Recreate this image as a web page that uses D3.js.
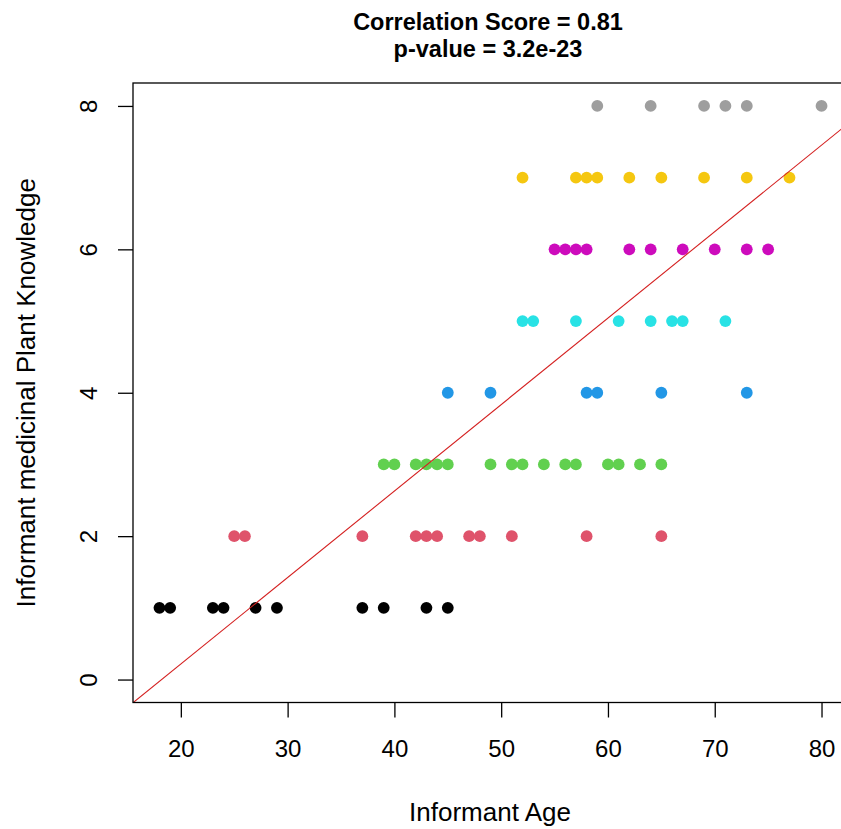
<!DOCTYPE html>
<html>
<head>
<meta charset="utf-8">
<script src="https://cdn.jsdelivr.net/npm/d3@7"></script>
<style>
  html, body { margin: 0; padding: 0; background: #fff; }
  svg { display: block; }
  text { font-family: "Liberation Sans", Arial, sans-serif; fill: #000; }
</style>
</head>
<body>
<div id="chart"></div>
<script>
// ---- data ----
const knowledgeLevels = [1, 2, 3, 4, 5, 6, 7, 8];
const levelColors = ["#000000", "#DF536B", "#61D04F", "#2297E6", "#28E2E5", "#CD0BBC", "#F5C710", "#9E9E9E"];
const agesLevel1 = [18, 19, 23, 24, 27, 29, 37, 39, 43, 45];
const agesLevel2 = [25, 26, 37, 42, 43, 44, 47, 48, 51, 58, 65];
const agesLevel3 = [39, 40, 42, 43, 44, 45, 49, 51, 52, 54, 56, 57, 60, 61, 63, 65];
const agesLevel4 = [45, 49, 58, 59, 65, 73];
const agesLevel5 = [52, 53, 57, 61, 64, 66, 67, 71];
const agesLevel6 = [55, 56, 57, 58, 62, 64, 67, 70, 73, 75];
const agesLevel7 = [52, 57, 58, 59, 62, 65, 69, 73, 77];
const agesLevel8 = [59, 64, 69, 71, 73, 80];
const agesByLevel = [agesLevel1, agesLevel2, agesLevel3, agesLevel4, agesLevel5, agesLevel6, agesLevel7, agesLevel8];
const xTicks = [20, 30, 40, 50, 60, 70, 80];
const yTicks = [0, 2, 4, 6, 8];
const fitIntercept = -2.195;
const fitSlope = 0.1206;
const titleLines = ["Correlation Score = 0.81", "p-value = 3.2e-23"];
const xLabel = "Informant Age";
const yLabel = "Informant medicinal Plant Knowledge";

// ---- layout ----
const W = 841, H = 829;
const plot = { left: 133, right: 848, top: 83, bottom: 702.5 };
const xDomain = [15.52, 82.48];
const yDomain = [-0.32, 8.32];

const svg = d3.select("#chart").append("svg")
  .attr("width", W).attr("height", H);

const x = d3.scaleLinear().domain(xDomain).range([plot.left, plot.right]);
const y = d3.scaleLinear().domain(yDomain).range([plot.bottom, plot.top]);

const points = [];
agesByLevel.forEach((ages, i) => {
  ages.forEach(a => points.push({ age: a, level: knowledgeLevels[i], color: levelColors[i] }));
});

svg.append("defs").append("clipPath").attr("id", "plotclip")
  .append("rect")
  .attr("x", plot.left).attr("y", plot.top)
  .attr("width", plot.right - plot.left).attr("height", plot.bottom - plot.top);

// points
svg.append("g")
  .selectAll("circle")
  .data(points)
  .join("circle")
  .attr("cx", d => x(d.age))
  .attr("cy", d => y(d.level))
  .attr("r", 5.9)
  .attr("fill", d => d.color);

// regression line
svg.append("line")
  .attr("clip-path", "url(#plotclip)")
  .attr("x1", x(xDomain[0])).attr("y1", y(fitIntercept + fitSlope * xDomain[0]))
  .attr("x2", x(xDomain[1])).attr("y2", y(fitIntercept + fitSlope * xDomain[1]))
  .attr("stroke", "#D42020")
  .attr("stroke-width", 1.1);

// box
svg.append("rect")
  .attr("x", plot.left).attr("y", plot.top)
  .attr("width", plot.right - plot.left).attr("height", plot.bottom - plot.top)
  .attr("fill", "none").attr("stroke", "#000").attr("stroke-width", 1.3);

// x axis
const xAxis = d3.axisBottom(x).tickValues(xTicks).tickSize(15).tickPadding(22)
  .tickFormat(d3.format("d"));
const gx = svg.append("g").attr("transform", `translate(0,${plot.bottom})`).call(xAxis);
gx.select(".domain").remove();
gx.selectAll(".tick line").attr("stroke", "#000").attr("stroke-width", 1.3);
gx.selectAll(".tick text")
  .style("font-family", '"Liberation Sans", Arial, sans-serif')
  .style("font-size", "24px").attr("fill", "#000");

// y axis
const yAxis = d3.axisLeft(y).tickValues(yTicks).tickSize(15).tickFormat(d3.format("d"));
const gy = svg.append("g").attr("transform", `translate(${plot.left},0)`).call(yAxis);
gy.select(".domain").remove();
gy.selectAll(".tick line").attr("stroke", "#000").attr("stroke-width", 1.3);
gy.selectAll(".tick text")
  .attr("x", null).attr("dy", null)
  .attr("text-anchor", "middle")
  .attr("dominant-baseline", "central")
  .attr("transform", `translate(${88 - plot.left},0) rotate(-90)`)
  .style("font-family", '"Liberation Sans", Arial, sans-serif')
  .style("font-size", "24px").attr("fill", "#000");

// titles
svg.append("g").selectAll("text")
  .data(titleLines)
  .join("text")
  .attr("x", 488)
  .attr("y", (d, i) => 30 + i * 27)
  .attr("text-anchor", "middle")
  .style("font-weight", "bold")
  .style("font-size", "23.5px")
  .text(d => d);

svg.append("text")
  .attr("x", (plot.left + 841) / 2 + 3)
  .attr("y", 821)
  .attr("text-anchor", "middle")
  .style("font-size", "26px")
  .text(xLabel);

svg.append("text")
  .attr("transform", `translate(35,${(plot.top + plot.bottom) / 2}) rotate(-90)`)
  .attr("text-anchor", "middle")
  .style("font-size", "26px")
  .text(yLabel);
</script>
</body>
</html>
